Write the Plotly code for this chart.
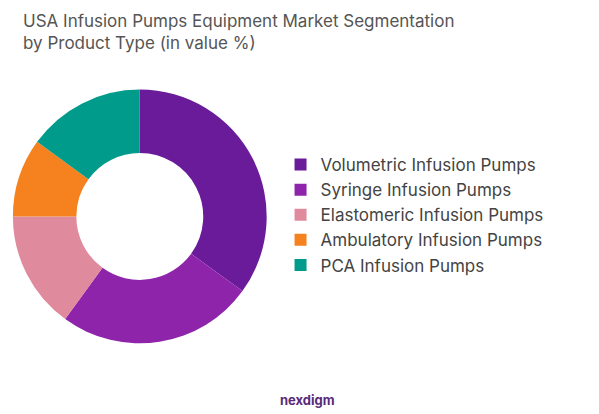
import plotly.graph_objects as go

labels = ["Volumetric Infusion Pumps", "Syringe Infusion Pumps", "Elastomeric Infusion Pumps",
          "Ambulatory Infusion Pumps", "PCA Infusion Pumps"]
values = [35, 25, 15, 10, 15]
colors = ["#6a1b9a", "#8e24aa", "#e08a9e", "#f5821f", "#009b8a"]

fig = go.Figure(go.Pie(labels=labels, values=values, hole=0.5, sort=False, direction="clockwise",
                       rotation=0, marker=dict(colors=colors), textinfo="none",
                       domain=dict(x=[0.008, 0.432], y=[0.19, 0.803])))
fig.update_layout(
    width=599, height=414, margin=dict(l=0, r=0, t=0, b=0),
    paper_bgcolor="white",
    font=dict(family="Inter, Noto Sans, sans-serif"),
    legend=dict(x=0.455, y=0.5, xanchor="left", yanchor="middle",
                font=dict(size=17, color="#444444"), itemwidth=30),
    annotations=[
        dict(text="USA Infusion Pumps Equipment Market Segmentation<br>by Product Type (in value %)",
             x=0.022, y=0.997, xref="paper", yref="paper", xanchor="left", yanchor="top",
             align="left", showarrow=False, font=dict(size=17, color="#555555")),
        dict(text="<b>nexdigm</b>", x=0.5, y=0.03, xref="paper", yref="paper",
             showarrow=False, font=dict(size=13, color="#5a2a7a"))],
)
fig.write_html("out.html")
